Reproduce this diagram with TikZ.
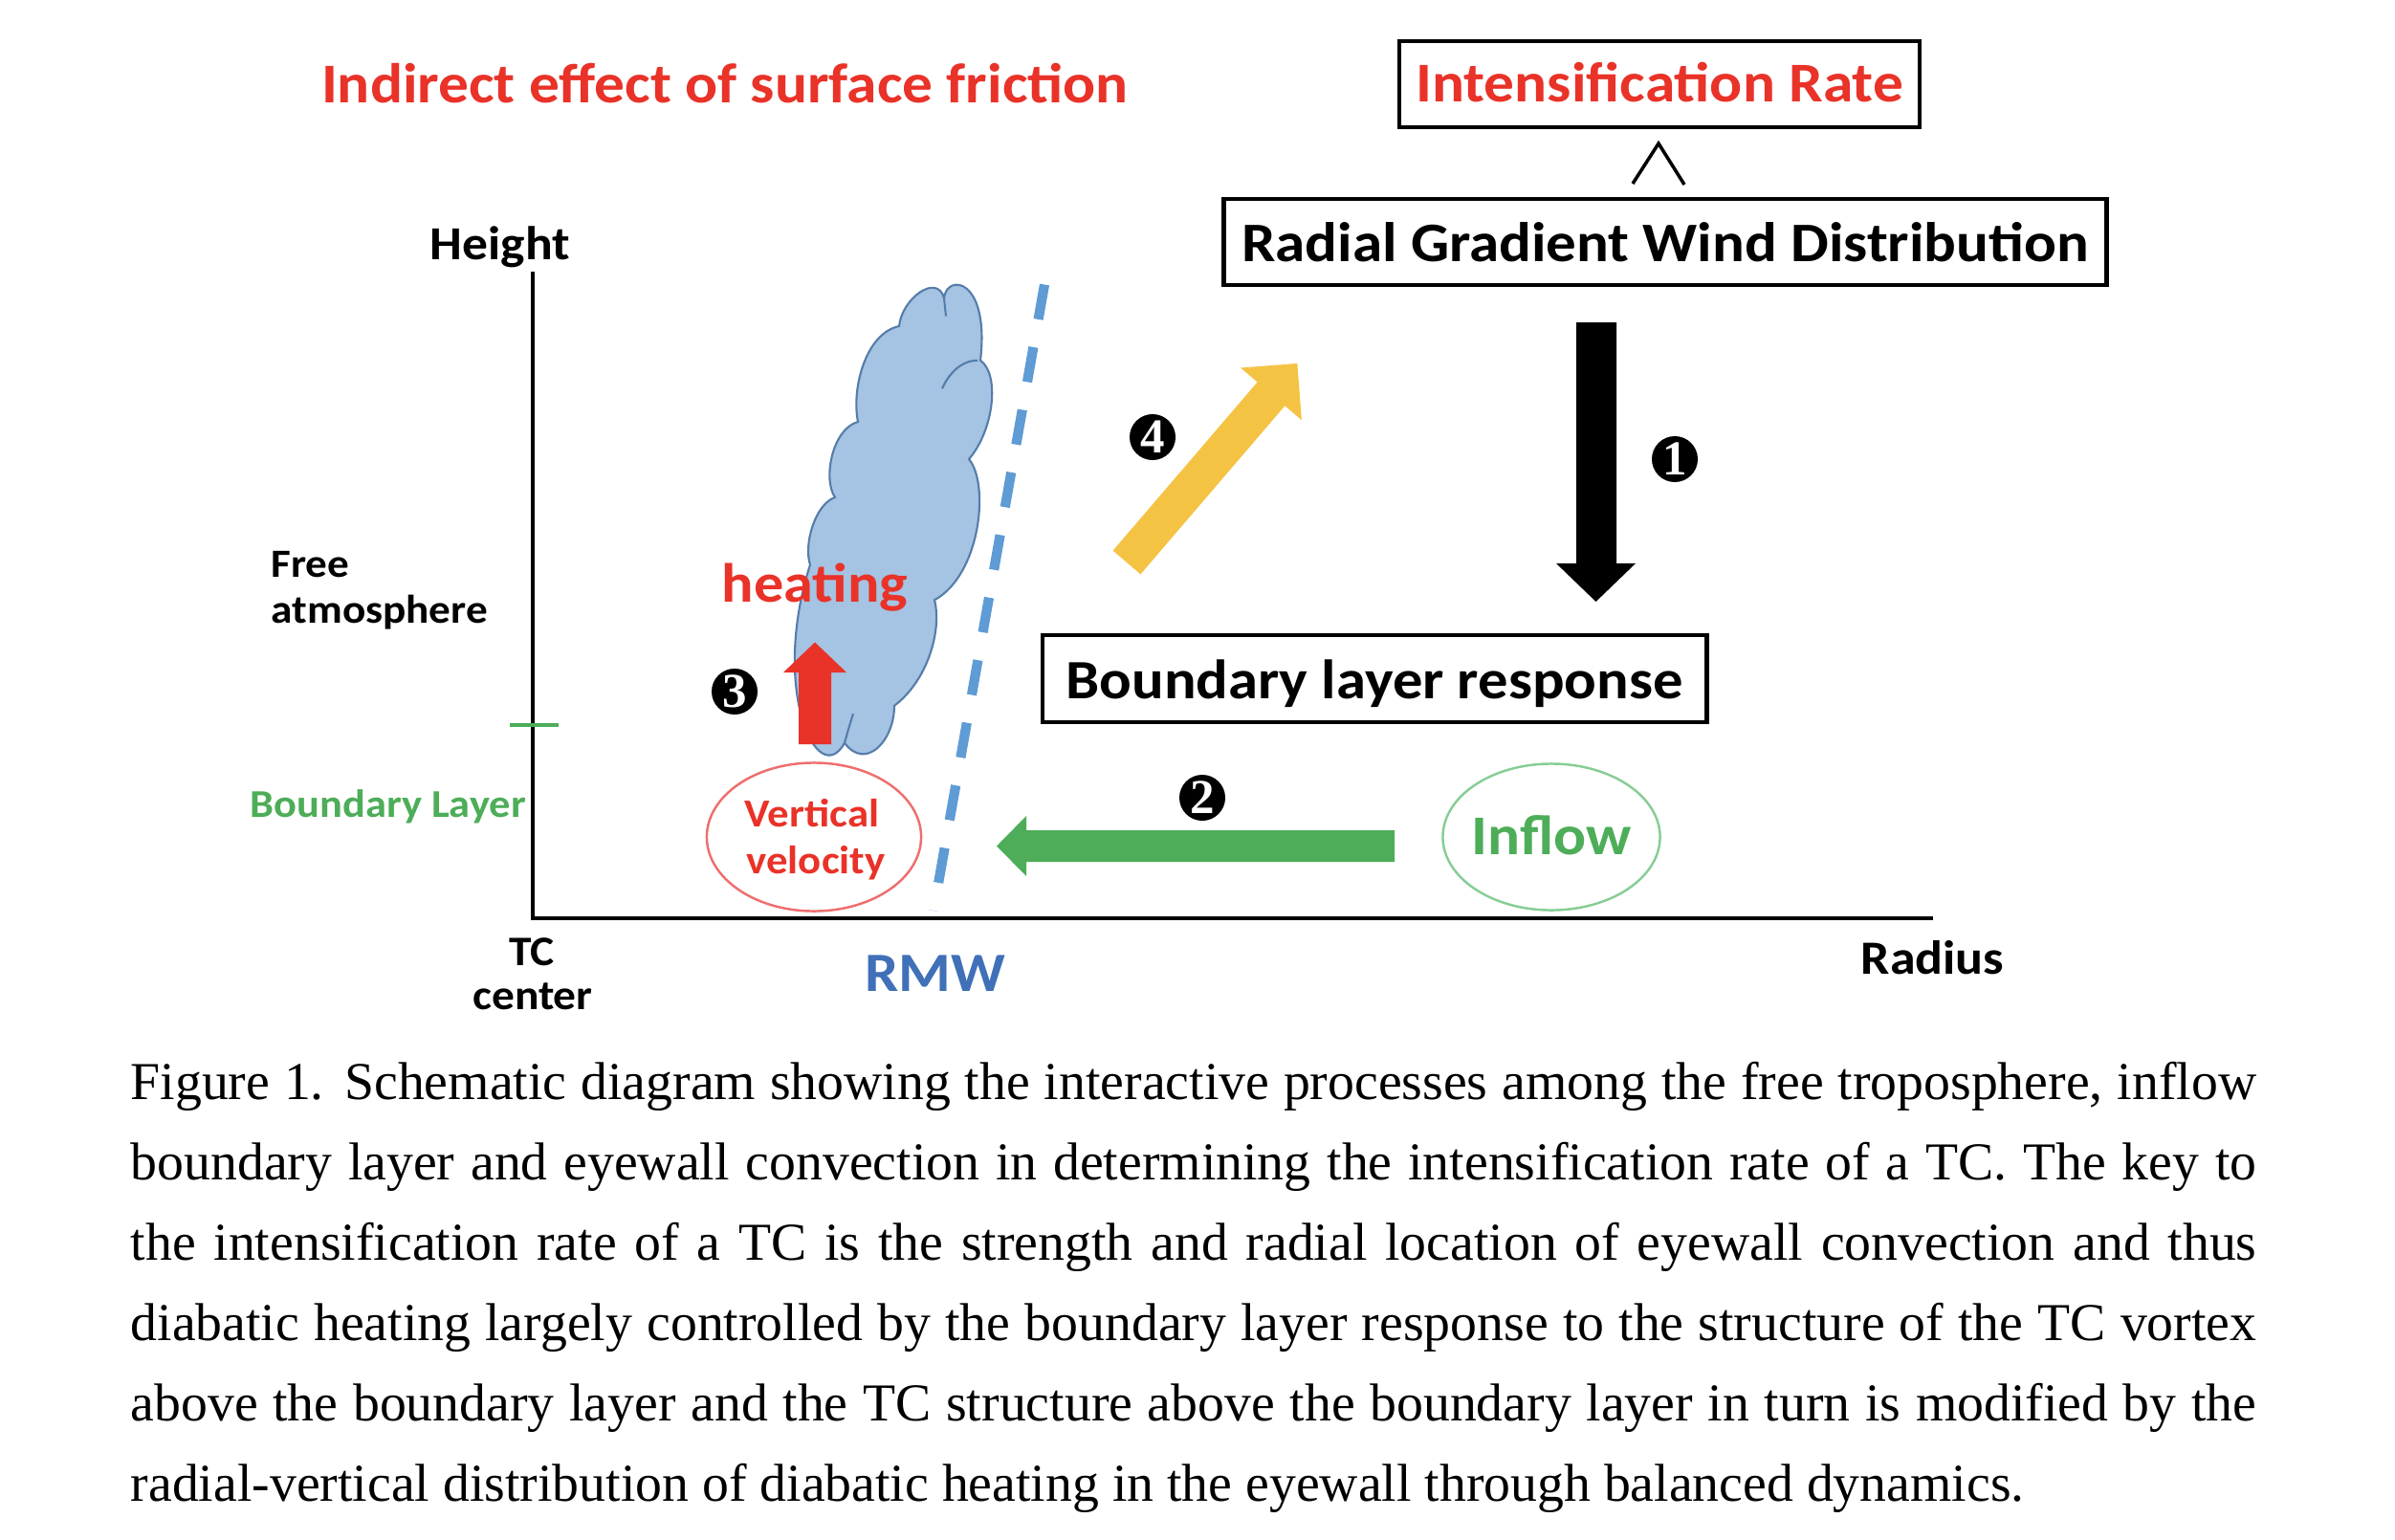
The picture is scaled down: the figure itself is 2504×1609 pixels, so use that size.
\documentclass[tikz,border=0pt]{standalone}
\usepackage{fontspec}
\usetikzlibrary{shapes.geometric}
\setmainfont{Liberation Serif}
\newfontfamily\carl[FakeStretch=1.08]{Carlito}
\newcommand\lbf[1]{\carl\bfseries\fontsize{#1}{#1}\selectfont}
\definecolor{tred}{RGB}{233,50,40}
\definecolor{tgreen}{RGB}{77,173,88}
\definecolor{lgreen}{RGB}{135,205,150}
\definecolor{lred}{RGB}{238,110,110}
\definecolor{tblue}{RGB}{64,112,184}
\definecolor{dblue}{RGB}{95,155,212}
\definecolor{cloudfill}{RGB}{165,195,226}
\definecolor{cloudedge}{RGB}{85,125,170}
\definecolor{tyellow}{RGB}{245,195,68}
\begin{document}
\begin{tikzpicture}[x=0.01cm,y=-0.01cm,
  lab/.style={inner sep=0pt},
  boxn/.style={draw=black, line width=1.3pt, inner sep=0pt, text depth=0pt},
  ell/.style={ellipse, line width=0.7pt, inner sep=0pt},
  num/.style={circle, fill=black, text=white, inner sep=0pt, minimum size=0.48cm, font=\bfseries\fontsize{14.5}{14.5}\selectfont},
  capline/.style={anchor=base west, inner sep=0pt, font=\fontsize{15.85}{24}\selectfont}]
\path[use as bounding box] (0,0) rectangle (2504,1609);

% title
\node[lab, anchor=base, text=tred, font=\lbf{16.7}] (title) at (758,107) {Indirect effect of surface friction};

% boxes
\node[boxn, minimum width=5.44cm, minimum height=0.90cm, text height=10.8pt, text=tred, font=\lbf{16.7}] (ir) at (1735,88) {Intensification Rate};
\draw[line width=1pt] (1707,192) -- (1734,150) -- (1761,193);
\node[boxn, minimum width=9.22cm, minimum height=0.90cm, text height=11.4pt, font=\lbf{16.6}] (rgw) at (1741,253) {Radial Gradient Wind Distribution};
\node[boxn, minimum width=6.94cm, minimum height=0.91cm, text height=11.7pt, font=\lbf{16.5}] (blr) at (1437,709.5) {Boundary layer response};

% cloud
\filldraw[fill=cloudfill, draw=cloudedge, line width=0.6pt]
 (940,341) .. controls (943,311.6) and (980,285.3) .. (987,311.6)
 .. controls (990,285.3) and (1035,290.5) .. (1025,376.8)
 .. controls (1045,390.5) and (1040,448.4) .. (1013,480)
 .. controls (1035,506.2) and (1025,601) .. (977,627.3)
 .. controls (985,658.8) and (970,711.4) .. (935,737.8)
 .. controls (935,774.6) and (905,806.2) .. (883,776.7)
 .. controls (855,827.2) and (805,722) .. (847,590.4)
 .. controls (840,569.4) and (852,527.3) .. (873,519.9)
 .. controls (860,501) and (870,448.4) .. (897,441)
 .. controls (890,406.3) and (905,348.4) .. (940,341) -- cycle;
\draw[cloudedge, line width=0.6pt] (987,311.6) -- (989,330.5);
\draw[cloudedge, line width=0.6pt] (985,406.3) .. controls (992,390.5) and (1005,376.8) .. (1022,376.8);
\draw[cloudedge, line width=0.6pt] (892,746.2) .. controls (888,758.8) and (885,769.3) .. (883,776.7);

% RMW dashed line
\draw[dblue, line width=2.9pt, dash pattern=on 10.5pt off 8.4pt] (1092,297.5) -- (976,952);

% axes
\draw[line width=1pt] (557,284) -- (557,960) -- (2021,960);
\draw[tgreen, line width=1.4pt] (533,758) -- (584,758);

% arrows
\fill[black] (1648,337) -- (1690,337) -- (1690,589) -- (1710,589) -- (1668.5,629) -- (1627,589) -- (1648,589) -- cycle;
\fill[tgreen] (1458,868) -- (1073,868) -- (1073,853) -- (1042,884.5) -- (1073,916) -- (1073,901) -- (1458,901) -- cycle;
\fill[tred] (835,778) -- (835,703) -- (819,703) -- (852,671.5) -- (885,703) -- (869,703) -- (869,778) -- cycle;
\begin{scope}[shift={(1178,588)}, rotate=49.4]
\fill[tyellow] (0,-19) -- (232,-19) -- (232,-42) -- (274,0) -- (232,42) -- (232,19) -- (0,19) -- cycle;
\end{scope}

% ellipses
\node[ell, draw=lred, minimum width=2.24cm, minimum height=1.55cm] (vv) at (851,875) {};
\node[lab, anchor=base, text=tred, font=\lbf{11.8}] (vv1) at (849,864) {Vertical};
\node[lab, anchor=base, text=tred, font=\lbf{11.8}] (vv2) at (853,913) {velocity};
\node[ell, draw=lgreen, minimum width=2.27cm, minimum height=1.53cm] (inflowe) at (1622,875) {};
\node[lab, anchor=base, text=tgreen, font=\lbf{16.7}] (inflow) at (1622,893) {Inflow};

% labels
\node[lab, anchor=base, text=tred, font=\lbf{16.4}] (heat) at (852,629) {heating};
\node[lab, anchor=base, font=\lbf{14.1}] (height) at (523,271) {Height};
\node[lab, anchor=base west, font=\lbf{14.2}] (radius) at (1945,1018) {Radius};
\node[lab, anchor=base, font=\lbf{12.5}] (tc1) at (556,1009) {TC};
\node[lab, anchor=base, font=\lbf{12.5}] (tc2) at (557,1055) {center};
\node[lab, anchor=base west, font=\lbf{11.9}] (free1) at (283,603) {Free};
\node[lab, anchor=base west, font=\lbf{11.9}] (free2) at (283,651) {atmosphere};
\node[lab, anchor=base west, text=tgreen, font=\lbf{11.7}] (bl) at (261,854) {Boundary Layer};
\node[lab, anchor=base, text=tblue, font=\lbf{16.5}] (rmw) at (978,1036) {RMW};

% numbers
\node[num] (n1) at (1751,480) {1};
\node[num] (n2) at (1257,834) {2};
\node[num] (n3) at (768,723) {3};
\node[num] (n4) at (1205,457) {4};

% caption
\node[capline] (c1) at (136,1149.5) {\makebox[632pt][s]{Figure 1. Schematic diagram showing the interactive processes among the free troposphere, inflow}};
\node[capline] (c2) at (136,1233.5) {\makebox[632pt][s]{boundary layer and eyewall convection in determining the intensification rate of a TC. The key to}};
\node[capline] (c3) at (136,1317.5) {\makebox[632pt][s]{the intensification rate of a TC is the strength and radial location of eyewall convection and thus}};
\node[capline] (c4) at (136,1401.5) {\makebox[632pt][s]{diabatic heating largely controlled by the boundary layer response to the structure of the TC vortex}};
\node[capline] (c5) at (136,1485.5) {\makebox[632pt][s]{above the boundary layer and the TC structure above the boundary layer in turn is modified by the}};
\node[capline] (c6) at (136,1569.5) {radial-vertical distribution of diabatic heating in the eyewall through balanced dynamics.};
\end{tikzpicture}
\end{document}
